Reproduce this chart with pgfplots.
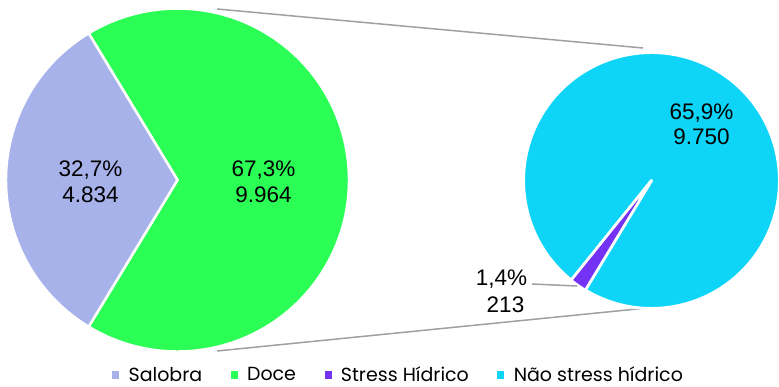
\documentclass[border=0pt]{standalone}
\usepackage{pgfplots}
\pgfplotsset{compat=1.18}
\usepackage{fontspec}
\setmainfont{Liberation Sans}
\newfontfamily\legendfont{Poppins}

\definecolor{salobra}{RGB}{168,178,234}
\definecolor{doce}{RGB}{43,255,85}
\definecolor{stress}{RGB}{116,50,245}
\definecolor{naostress}{RGB}{14,212,248}
\definecolor{conn}{RGB}{160,160,160}

% values (m3)
\def\vSalobra{4834}
\def\vDoce{9964}
\def\vStress{213}
\def\vNao{9750}

% slice angles
\pgfmathsetmacro\aDoceB{180*(\vDoce/(\vSalobra+\vDoce))}
\pgfmathsetmacro\aDoceA{-\aDoceB}
\pgfmathsetmacro\aSalB{360+\aDoceA}
\def\stressdir{235}
\pgfmathsetmacro\hStr{180*(\vStress/(\vStress+\vNao))}
\pgfmathsetmacro\aStrA{\stressdir-\hStr}
\pgfmathsetmacro\aStrB{\stressdir+\hStr}
\pgfmathsetmacro\aNaoB{360+\aStrA}

\newcommand\lbl{\fontsize{22.5}{26}\selectfont}

\begin{document}
\begin{tikzpicture}
\begin{axis}[
    scale only axis,
    width=779pt, height=386pt,
    xmin=0, xmax=779, ymin=0, ymax=386,
    hide axis,
    clip=false,
    legend columns=4,
    legend style={draw=none, fill=none, inner sep=0pt,
        at={(axis cs:112,11)}, anchor=west,
        font=\legendfont\fontsize{19}{21}\selectfont,
        /tikz/every odd column/.append style={column sep=8pt},
        /tikz/every even column/.append style={column sep=26.5pt}},
    legend image code/.code={\fill[#1] (0pt,-3.5pt) rectangle (6pt,3.5pt);},
]
\addlegendimage{salobra}
\addlegendentry{Salobra}
\addlegendimage{doce}
\addlegendentry{Doce}
\addlegendimage{stress}
\addlegendentry{Stress Hídrico}
\addlegendimage{naostress}
\addlegendentry{Não stress hídrico}

% connector lines
\draw[conn, line width=1.5pt] (axis cs:217,377) -- (axis cs:643,338);
\draw[conn, line width=1.5pt] (axis cs:217,35) -- (axis cs:647,78);

% left pie
\filldraw[fill=doce, draw=white, line width=2.5pt, line join=round]
    (axis cs:177.5,206) -- ++(\aDoceA:171.5pt)
    arc[start angle=\aDoceA, end angle=\aDoceB, radius=171.5pt] -- cycle;
\filldraw[fill=salobra, draw=white, line width=2.5pt, line join=round]
    (axis cs:177.5,206) -- ++(\aDoceB:171.5pt)
    arc[start angle=\aDoceB, end angle=\aSalB, radius=171.5pt] -- cycle;

% right pie
\filldraw[fill=naostress, draw=white, line width=3pt, line join=round]
    (axis cs:651.5,205.5) -- ++(\aStrB:128pt)
    arc[start angle=\aStrB, end angle=\aNaoB, radius=128pt] -- cycle;
\filldraw[fill=stress, draw=white, line width=2.5pt, line join=round]
    (axis cs:651.5,205.5) -- ++(\aStrA:128pt)
    arc[start angle=\aStrA, end angle=\aStrB, radius=128pt] -- cycle;

% leader line
\draw[conn, line width=1.5pt] (axis cs:532,102) -- (axis cs:577,100);

% data labels
\node[anchor=base, font=\lbl] at (axis cs:90.5,209) {32,7\%};
\node[anchor=base, font=\lbl] at (axis cs:90.5,183) {4.834};
\node[anchor=base, font=\lbl] at (axis cs:263.5,209) {67,3\%};
\node[anchor=base, font=\lbl] at (axis cs:263.5,183) {9.964};
\node[anchor=base, font=\lbl] at (axis cs:701.5,266) {65,9\%};
\node[anchor=base, font=\lbl] at (axis cs:701.5,241) {9.750};
\node[anchor=base, font=\lbl] at (axis cs:501.5,101) {1,4\%};
\node[anchor=base, font=\lbl] at (axis cs:505.5,74) {213};
\end{axis}
\pgfresetboundingbox
\path[use as bounding box] (current axis.south west) rectangle (current axis.north east);
\end{tikzpicture}
\end{document}
